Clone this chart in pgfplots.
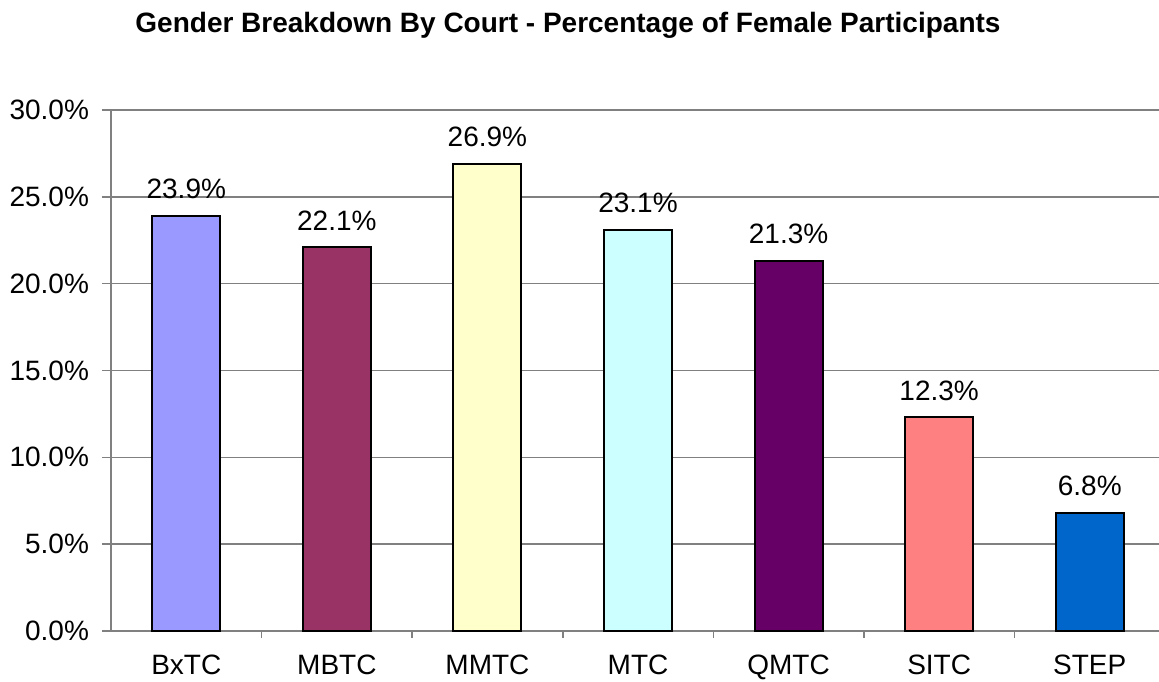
\documentclass[border=0pt]{standalone}
\usepackage{pgfplots}
\pgfplotsset{compat=1.18}
\usepackage{fontspec}
\setmainfont{Liberation Sans}
\definecolor{cA}{HTML}{9999FF}
\definecolor{cB}{HTML}{993366}
\definecolor{cC}{HTML}{FFFFCC}
\definecolor{cD}{HTML}{CCFFFF}
\definecolor{cE}{HTML}{660066}
\definecolor{cF}{HTML}{FF8080}
\definecolor{cG}{HTML}{0066CC}
\begin{document}
\begin{tikzpicture}[x=1pt,y=1pt]
\useasboundingbox (-55.5,-25) rectangle (524,315.5);
\begin{axis}[
  at={(0,0)}, anchor=south west,
  scale only axis, width=524pt, height=260.5pt,
  xmin=-0.5, xmax=6.46, ymin=0, ymax=30,
  axis lines*=left,
  axis line style={draw=gray, line width=0.8pt},
  ybar, bar width=34pt, bar shift=0pt,
  xtick={0,1,2,3,4,5,6},
  xticklabels={BxTC,MBTC,MMTC,MTC,QMTC,SITC,STEP},
  minor xtick={0.5,1.5,2.5,3.5,4.5,5.5},
  major x tick style={draw=none},
  ytick={0,5,10,15,20,25,30},
  yticklabels={0.0\%,5.0\%,10.0\%,15.0\%,20.0\%,25.0\%,30.0\%},
  tick align=outside,
  tick style={draw=gray, line width=0.8pt},
  major tick length=4.5pt, minor tick length=3.5pt,
  ymajorgrids, grid style={draw=gray, line width=0.8pt},
  tick label style={font=\fontsize{14}{16}\selectfont, text=black},
  yticklabel style={xshift=-3pt},
  xticklabel style={yshift=-4pt},
  /pgf/number format/assume math mode=true,
  nodes near coords={\pgfmathprintnumber[fixed,fixed zerofill,precision=1,assume math mode=true]{\pgfplotspointmeta}\%},
  nodes near coords style={font=\fontsize{14}{16}\selectfont, text=black, anchor=south, inner sep=0pt, yshift=8pt},
  clip=false,
]
\addplot[fill=cA, draw=black, line width=1pt] coordinates {(0,23.9)};
\addplot[fill=cB, draw=black, line width=1pt] coordinates {(1,22.1)};
\addplot[fill=cC, draw=black, line width=1pt] coordinates {(2,26.9)};
\addplot[fill=cD, draw=black, line width=1pt] coordinates {(3,23.1)};
\addplot[fill=cE, draw=black, line width=1pt] coordinates {(4,21.3)};
\addplot[fill=cF, draw=black, line width=1pt] coordinates {(5,12.3)};
\addplot[fill=cG, draw=black, line width=1pt] coordinates {(6,6.8)};
\end{axis}
\node[font=\bfseries\fontsize{14}{16}\selectfont] at (228.5,303) {Gender Breakdown By Court - Percentage of Female Participants};
\end{tikzpicture}
\end{document}
